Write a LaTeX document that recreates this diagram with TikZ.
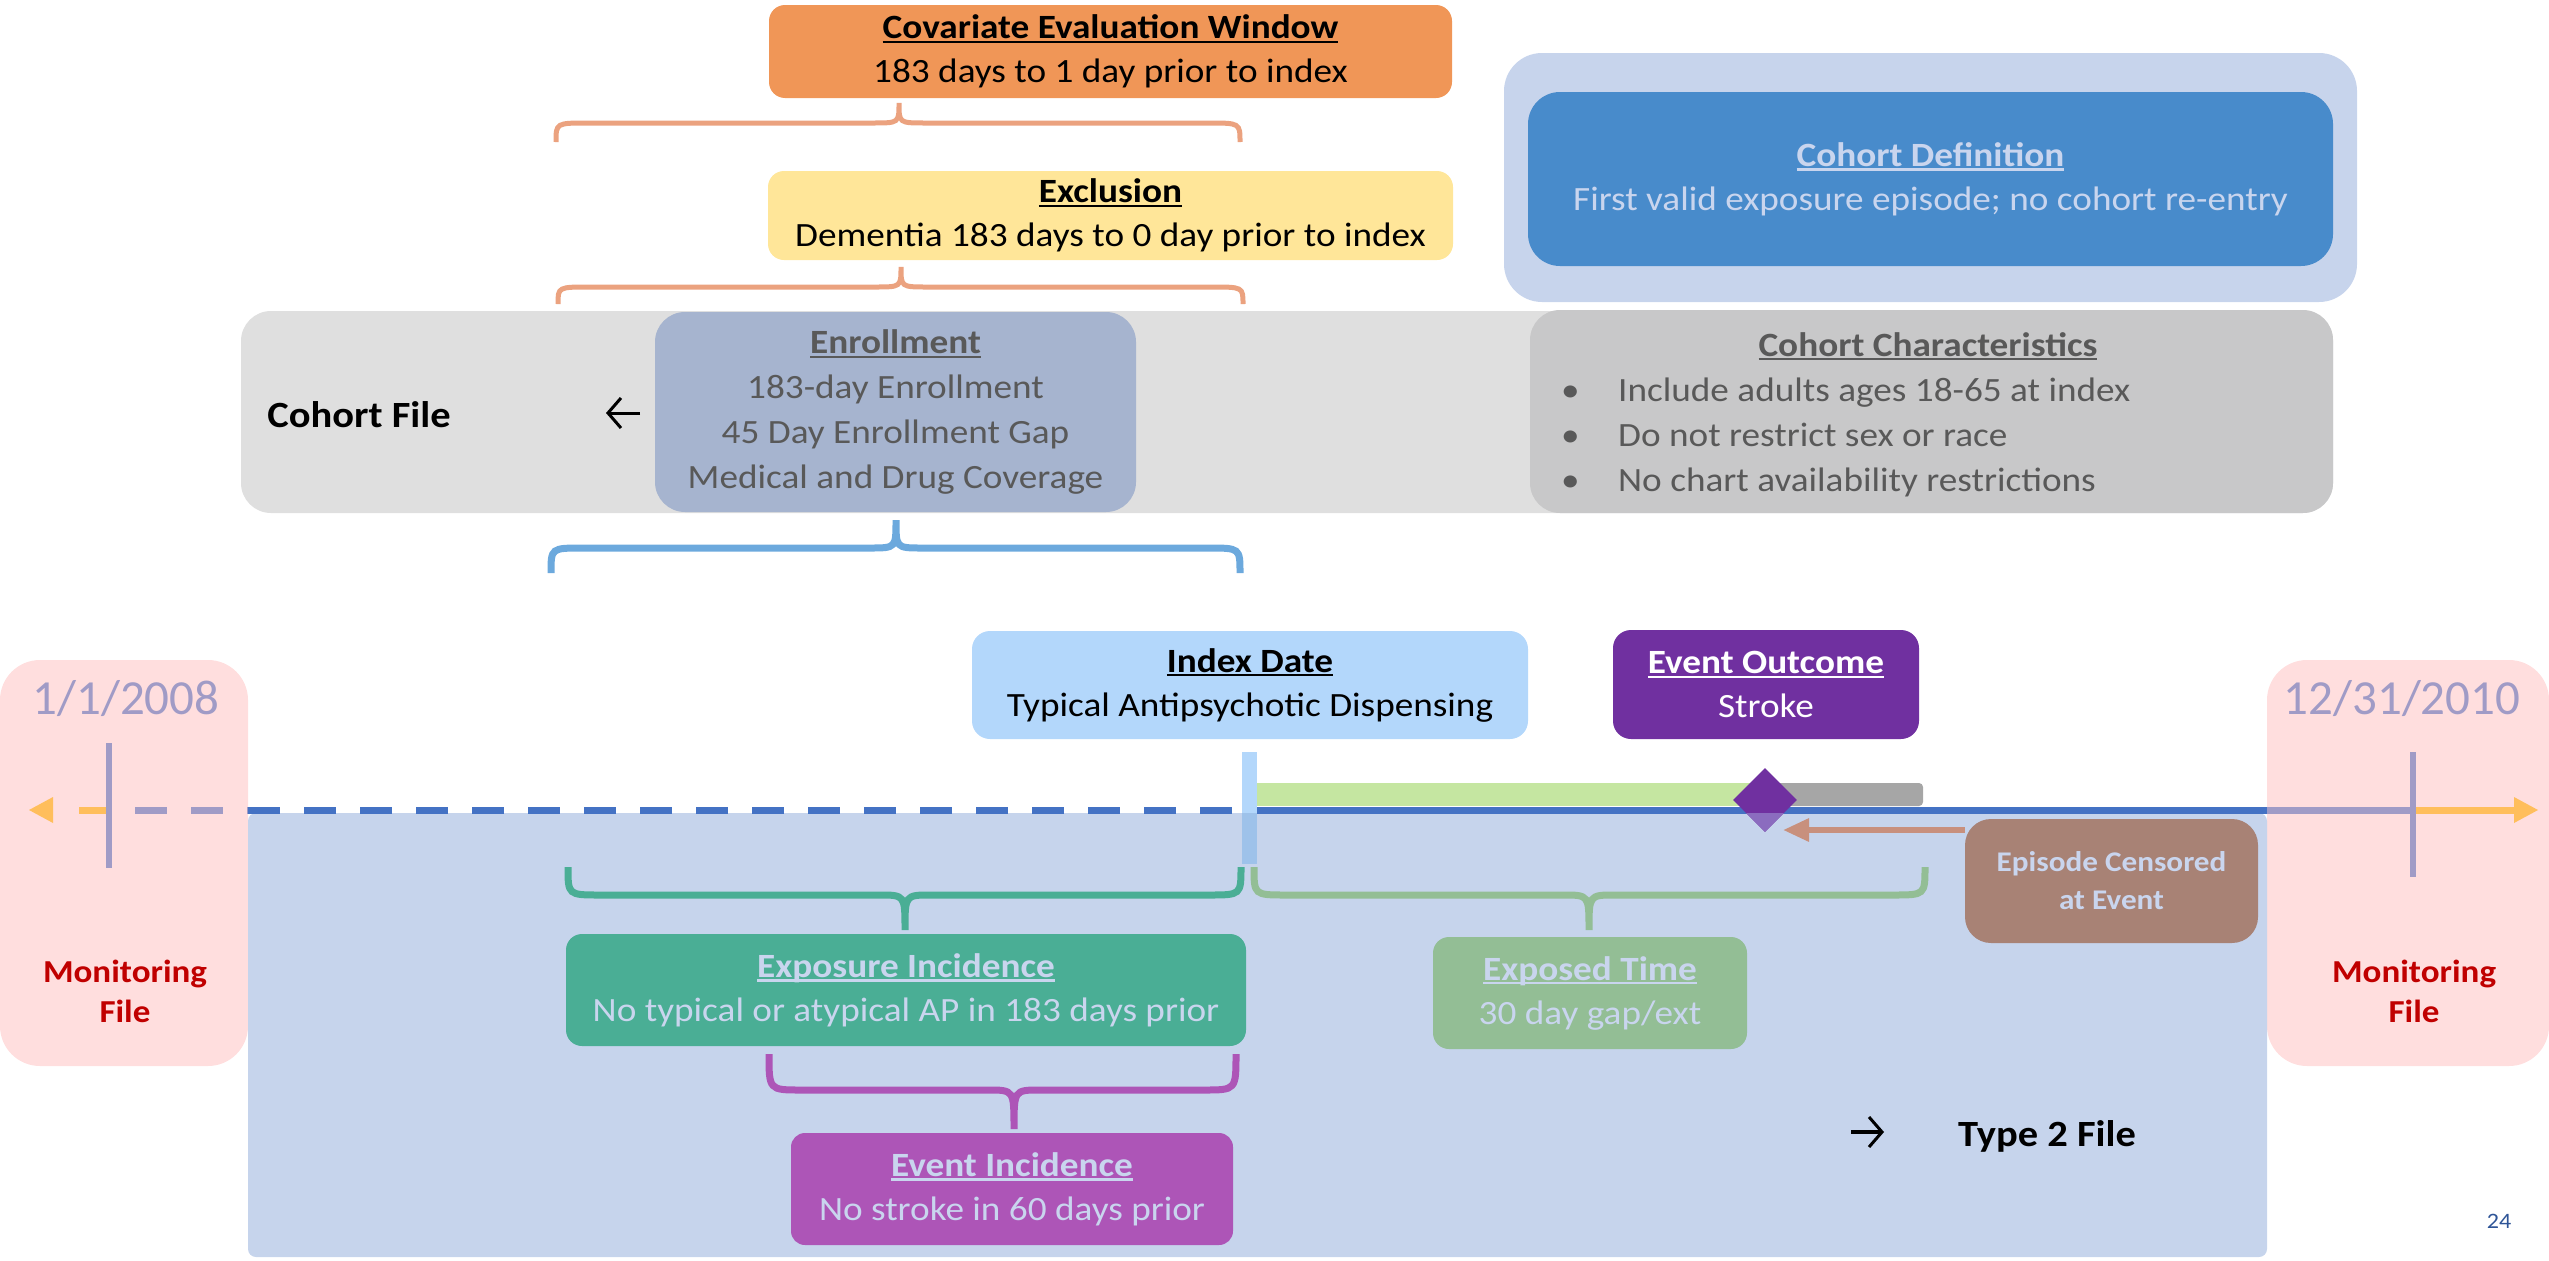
\documentclass[tikz,border=0pt]{standalone}
\usepackage{fontspec}
\setmainfont{Carlito}[FakeStretch=1.095]
\newfontfamily\datefont{Carlito}
\usetikzlibrary{shapes.geometric,arrows.meta}
\definecolor{cOrange}{HTML}{F09657}
\definecolor{cOrBr}{HTML}{EBA27F}
\definecolor{cYellow}{HTML}{FFE699}
\definecolor{cBand}{HTML}{DFDFDF}
\definecolor{cEnroll}{HTML}{A6B4CF}
\definecolor{cGrayTxt}{HTML}{595959}
\definecolor{cBlueBr}{HTML}{6CA9DD}
\definecolor{cDefOut}{HTML}{C7D4EC}
\definecolor{cDefIn}{HTML}{488BCB}
\definecolor{cLight}{HTML}{C9D5EE}
\definecolor{cChar}{HTML}{C8C8C9}
\definecolor{cPink}{HTML}{FFDEDE}
\definecolor{cLav}{HTML}{A09BC6}
\definecolor{cRed}{HTML}{C00000}
\definecolor{cArrow}{HTML}{FFBE5C}
\definecolor{cLine}{HTML}{4472C4}
\definecolor{cRegion}{HTML}{C6D4EC}
\definecolor{cIndex}{HTML}{B3D7FB}
\definecolor{cIndexDk}{HTML}{9EC2EA}
\definecolor{cGreen}{HTML}{C5E6A1}
\definecolor{cGrayBar}{HTML}{A6A6A6}
\definecolor{cPurple}{HTML}{7030A0}
\definecolor{cPurpleLt}{HTML}{8B6CBF}
\definecolor{cBrownAr}{HTML}{C8907D}
\definecolor{cEpi}{HTML}{A88275}
\definecolor{cTeal}{HTML}{4AAE95}
\definecolor{cSage}{HTML}{93BE95}
\definecolor{cMagenta}{HTML}{AD55B7}
\definecolor{cPage}{HTML}{2F5597}
\newcommand\fmain{\fontsize{34}{44}\selectfont}
\newcommand\undl[1]{\leavevmode\setbox0\hbox{#1}\rlap{\rule[-0.13em]{\wd0}{0.065em}}\box0}
% brace: style, x1, x2, xtip, yend, ybar, ytip
\newcommand\bracepath[7]{%
  \draw[#1] (#2,#5) .. controls (#2,#6) .. ({#2+32},#6) -- ({#4-26},#6)
    .. controls (#4,#6) .. (#4,#7) .. controls (#4,#6) .. ({#4+26},#6)
    -- ({#3-32},#6) .. controls (#3,#6) .. (#3,#5);}
\tikzset{
  panel/.style={inner sep=0pt, align=center, font=\fmain},
  bracestyle/.style={line width=6pt},
  symarrow/.style={line width=3pt, -{Straight Barb[length=13pt,width=30pt,line width=3pt]}},
}
\begin{document}
\begin{tikzpicture}[x=1pt,y=-1pt]
\useasboundingbox (0,0) rectangle (2549,1261);
% monitoring boxes
\node[panel, fill=cPink, rounded corners=40, minimum width=248, minimum height=406] (pinkL) at (124,863) {};
\node[panel, fill=cPink, rounded corners=40, minimum width=282, minimum height=406] (pinkR) at (2408,863) {};
% type 2 region
\node[panel, fill=cRegion, rounded corners=8, minimum width=2019, minimum height=444] (t2) at (1257.5,1035) {};
% top part
\node[panel, fill=cOrange, rounded corners=16, minimum width=683, minimum height=93] (cov) at (1110.5,51.5)
  {{\bfseries\undl{Covariate Evaluation Window}}\\183 days to 1 day prior to index};
\bracepath{bracestyle, cOrBr, line width=5pt}{556}{1240}{899}{142}{123}{103}
\node[panel, fill=cYellow, rounded corners=16, minimum width=685, minimum height=89] (excl) at (1110.5,215.5)
  {{\bfseries\undl{Exclusion}}\\Dementia 183 days to 0 day prior to index};
\bracepath{bracestyle, cOrBr, line width=5pt}{558}{1243}{901}{304}{287}{267}
\node[panel, fill=cBand, rounded corners=30, minimum width=2092, minimum height=202] (band) at (1287,412) {};
\node[panel, fill=cEnroll, rounded corners=30, minimum width=481, minimum height=200, text=cGrayTxt,
  font=\fontsize{34}{45}\selectfont] (enr) at (895.5,412)
  {{\bfseries\undl{Enrollment}}\\183-day Enrollment\\45 Day Enrollment Gap\\Medical and Drug Coverage};
\node[panel, font=\fontsize{37}{44}\selectfont\bfseries] (cf) at (359,415) {Cohort File};
\coordinate (laS) at (640,413);
\coordinate (laE) at (606,413);
\draw[symarrow] (laS) -- (laE);
\node[panel, fill=cChar, rounded corners=30, minimum width=803, minimum height=203] (char) at (1931.5,411.5) {};
\node[panel, text=cGrayTxt, anchor=base] (charT) at (1928,356) {\bfseries\undl{Cohort Characteristics}};
\node[inner sep=0pt, align=left, text=cGrayTxt, font=\fontsize{34}{45}\selectfont, anchor=west] (charL) at (1561,437)
  {\makebox[57pt][l]{•}Include adults ages 18-65 at index\\\makebox[57pt][l]{•}Do not restrict sex or race\\\makebox[57pt][l]{•}No chart availability restrictions};
\bracepath{bracestyle, cBlueBr, line width=7pt}{551}{1240}{896}{573}{548}{520}
\node[panel, fill=cDefOut, rounded corners=38, minimum width=853, minimum height=249] (defo) at (1930.5,177.5) {};
\node[panel, fill=cDefIn, rounded corners=32, minimum width=805, minimum height=174, text=cLight] (defi) at (1930.5,179)
  {{\bfseries\undl{Cohort Definition}}\\First valid exposure episode; no cohort re-entry};
% dates and monitoring labels
\node[inner sep=0pt, text=cLav, font=\datefont\fontsize{49}{55}\selectfont, anchor=base] (d1) at (126,714) {1/1/2008};
\node[inner sep=0pt, text=cLav, font=\datefont\fontsize{49}{55}\selectfont, anchor=base] (d2) at (2402,714) {12/31/2010};
\node[panel, text=cRed, font=\fontsize{32}{40}\selectfont\bfseries] (m1) at (125,991) {Monitoring\\File};
\node[panel, text=cRed, font=\fontsize{32}{40}\selectfont\bfseries] (m2) at (2414,991) {Monitoring\\File};
% timeline
\coordinate (tlLtip) at (29,810);
\coordinate (tlRtip) at (2538,810);
\draw[cLav, line width=7pt, dash pattern=on 32pt off 24pt] (135,810) -- (248,810);
\draw[cLine, line width=7pt, dash pattern=on 32pt off 24pt] (248,810) -- (1242,810);
\draw[cArrow, line width=7pt] (79,810) -- (109,810);
\fill[cArrow] (tlLtip) -- (53,797) -- (53,823) -- cycle;
\draw[cLine, line width=7pt] (1242,810) -- (2267,810);
\draw[cLav, line width=7pt] (2267,810) -- (2413,810);
\draw[cArrow, line width=7pt] (2413,810) -- (2516,810);
\fill[cArrow] (tlRtip) -- (2514,797) -- (2514,823) -- cycle;
\draw[cLav, line width=6pt] (109,743) -- (109,868);
\draw[cLav, line width=6pt] (2413,752) -- (2413,877);
% index bar, exposure bars, event
\fill[cIndex] (1242,752) rectangle (1257,813);
\fill[cIndexDk] (1242,813) rectangle (1257,864);
\fill[cGreen] (1257,783) rectangle (1765,806);
\fill[cGrayBar, rounded corners=4] (1760,783) rectangle (1923,806);
\node[diamond, fill=cPurple, minimum width=64, minimum height=64, inner sep=0pt] (dia) at (1765,800) {};
\begin{scope}
  \clip (1700,813) rectangle (1830,850);
  \node[diamond, fill=cPurpleLt, minimum width=64, minimum height=64, inner sep=0pt] (diaLow) at (1765,800) {};
\end{scope}
\node[panel, fill=cIndex, rounded corners=18, minimum width=556, minimum height=108] (idx) at (1250,685)
  {{\bfseries\undl{Index Date}}\\Typical Antipsychotic Dispensing};
\node[panel, fill=cPurple, text=white, rounded corners=18, minimum width=306, minimum height=109] (evo) at (1766,684.5)
  {{\bfseries\undl{Event Outcome}}\\Stroke};
\node[panel, fill=cEpi, text=cLight, font=\fontsize{28.5}{38}\selectfont\bfseries, rounded corners=26,
  minimum width=293, minimum height=124] (epi) at (2111.5,881) {Episode Censored\\at Event};
\coordinate (cens) at (1783,830);
\draw[cBrownAr, line width=6pt, -{Triangle[length=26pt,width=22pt]}] (epi.west |- cens) -- (cens);
% lower braces and boxes
\bracepath{bracestyle, cTeal, line width=7pt}{568}{1241}{905}{867}{895}{930}
\bracepath{bracestyle, cSage, line width=7pt}{1254}{1925}{1589}{867}{895}{930}
\node[panel, fill=cTeal, text=cLight, rounded corners=16, minimum width=680, minimum height=112] (expi) at (906,990)
  {{\bfseries\undl{Exposure Incidence}}\\No typical or atypical AP in 183 days prior};
\node[panel, fill=cSage, text=cLight, rounded corners=16, minimum width=314, minimum height=112] (expt) at (1590,993)
  {{\bfseries\undl{Exposed Time}}\\30 day gap/ext};
\bracepath{bracestyle, cMagenta, line width=7pt}{769}{1236}{1014}{1054}{1090}{1129}
\node[panel, fill=cMagenta, text=cLight, rounded corners=14, minimum width=442, minimum height=112] (evi) at (1012,1189)
  {{\bfseries\undl{Event Incidence}}\\No stroke in 60 days prior};
\coordinate (raS) at (1851,1132);
\coordinate (raE) at (1884,1132);
\draw[symarrow, line width=4pt] (raS) -- (raE);
\node[panel, font=\fontsize{37}{44}\selectfont\bfseries] (t2lbl) at (2047,1136) {Type 2 File};
\node[inner sep=0pt, text=cPage, font=\fontsize{22}{22}\selectfont] (pg) at (2499,1221) {24};
\end{tikzpicture}
\end{document}
